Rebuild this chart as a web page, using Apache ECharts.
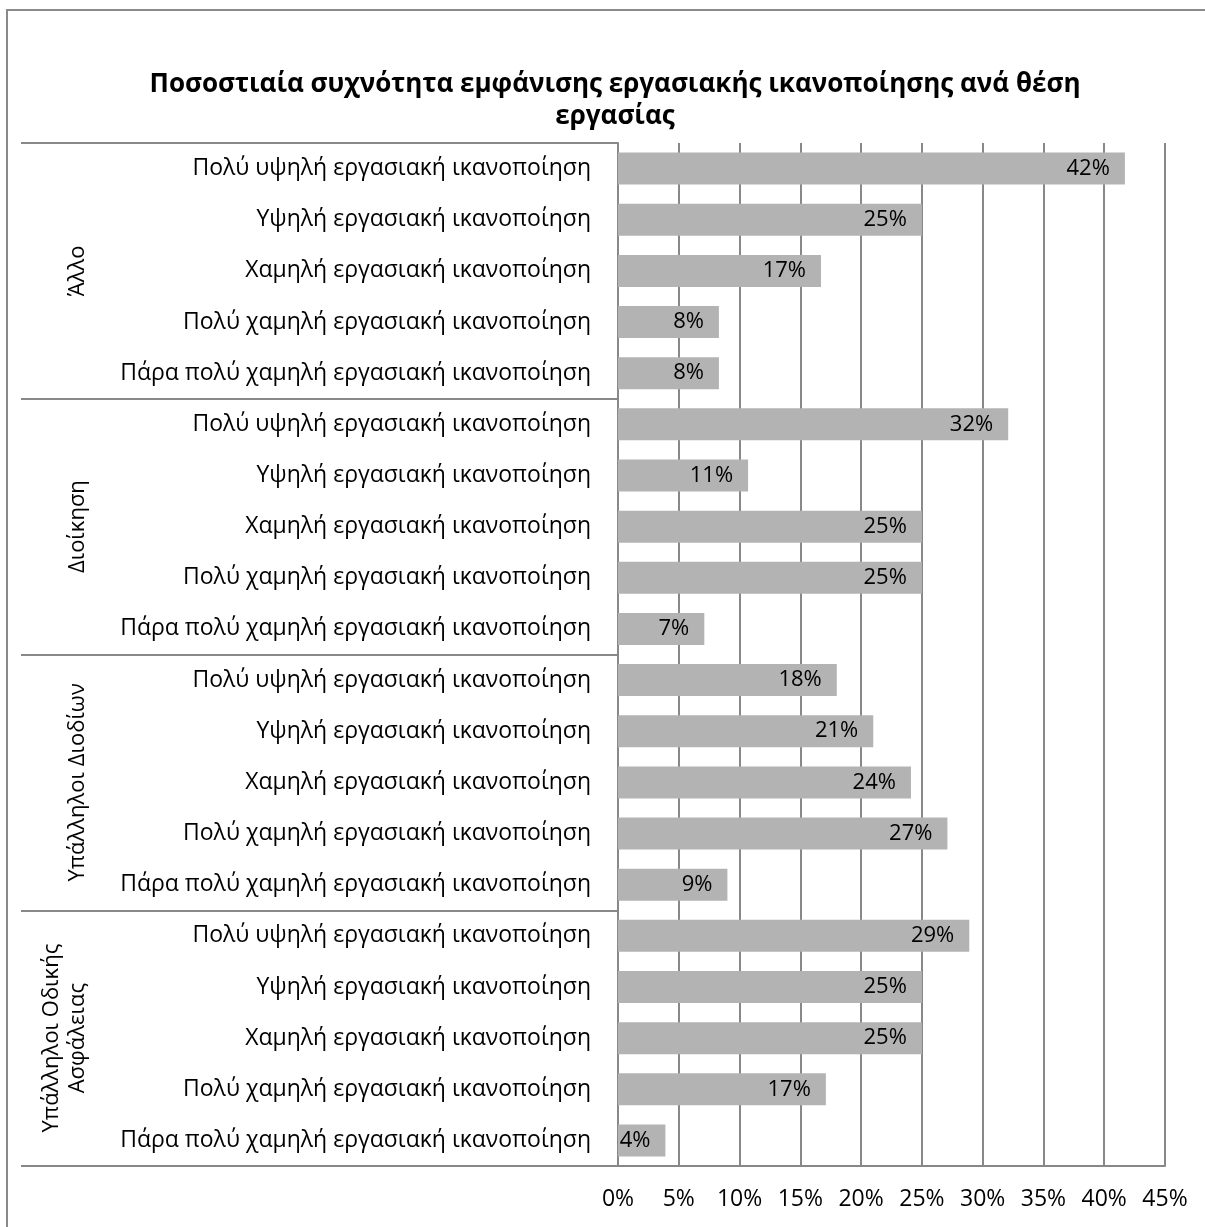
<!DOCTYPE html>
<html>
<head>
<meta charset="utf-8">
<script src="https://cdn.jsdelivr.net/npm/echarts@6/dist/echarts.min.js"></script>
<style>
  html, body { margin: 0; padding: 0; background: #fff; }
  #chart { width: 1205px; height: 1227px; }
</style>
</head>
<body>
<div id="chart"></div>
<script>
// job groups (outer level) and satisfaction levels (inner level)
const groups = ["Άλλο", "Διοίκηση", "Υπάλληλοι Διοδίων", "Υπάλληλοι Οδικής\nΑσφάλειας"];
const levels = [
  "Πολύ υψηλή εργασιακή ικανοποίηση",
  "Υψηλή εργασιακή ικανοποίηση",
  "Χαμηλή εργασιακή ικανοποίηση",
  "Πολύ χαμηλή εργασιακή ικανοποίηση",
  "Πάρα πολύ χαμηλή εργασιακή ικανοποίηση"
];
// percentages per group, same order as levels
const allo = [41.7, 25.0, 16.7, 8.3, 8.3];
const dioikisi = [32.1, 10.7, 25.0, 25.0, 7.1];
const diodia = [18.0, 21.0, 24.1, 27.1, 9.0];
const odiki = [28.9, 25.0, 25.0, 17.1, 3.9];
const xTicks = [0, 5, 10, 15, 20, 25, 30, 35, 40, 45];

const categories = [];
const values = [];
[allo, dioikisi, diodia, odiki].forEach((arr) => {
  arr.forEach((v, i) => {
    categories.push(levels[i]);
    values.push(v);
  });
});

const font = "'Open Sans', 'Noto Sans', sans-serif";
const gray = "#888888";

const chart = echarts.init(document.getElementById("chart"));
const option = {
  backgroundColor: "#fff",
  animation: false,
  textStyle: { fontFamily: font, color: "#000" },
  title: {
    text: "Ποσοστιαία συχνότητα εμφάνισης εργασιακής ικανοποίησης ανά θέση\nεργασίας",
    left: 610,
    top: 64,
    textAlign: "center",
    textStyle: { fontSize: 26, fontWeight: "bold", lineHeight: 32, color: "#000", fontFamily: font }
  },
  graphic: [
    {
      type: "rect",
      shape: { x: 7, y: 10, width: 1210, height: 1230 },
      style: { fill: "none", stroke: "#8a8a8a", lineWidth: 2 },
      silent: true
    }
  ],
  grid: { left: 618, right: 40, top: 143, bottom: 61 },
  xAxis: {
    type: "value",
    min: xTicks[0],
    max: xTicks[xTicks.length - 1],
    interval: 5,
    axisLine: { show: true, lineStyle: { color: gray, width: 2 } },
    axisTick: { show: false },
    splitLine: { show: true, lineStyle: { color: gray, width: 2 } },
    axisLabel: { formatter: "{value}%", fontSize: 23, color: "#000", margin: 22 }
  },
  yAxis: [
    {
      type: "category",
      data: categories,
      inverse: true,
      axisLine: { show: true, lineStyle: { color: gray, width: 2 } },
      axisTick: { show: false },
      axisLabel: { fontSize: 23, color: "#000", margin: 27, interval: 0 }
    },
    {
      type: "category",
      data: groups,
      inverse: true,
      position: "left",
      offset: 597,
      axisLine: { show: false },
      axisTick: { show: true, inside: true, length: 597, lineStyle: { color: gray, width: 2 } },
      axisLabel: {
        inside: true,
        rotate: 90,
        margin: 57,
        align: "center",
        verticalAlign: "middle",
        fontSize: 22,
        lineHeight: 26,
        color: "#000",
        interval: 0,
        // a blank trailing line pushes the two-line label to the left
        formatter: (v) => (v.indexOf("\n") >= 0 ? v + "\n " : v)
      }
    }
  ],
  series: [
    {
      type: "bar",
      data: values,
      yAxisIndex: 0,
      barWidth: 32,
      itemStyle: { color: "#b3b3b3" },
      label: {
        show: true,
        position: "insideRight",
        distance: 15,
        fontSize: 22,
        color: "#000",
        formatter: (p) => Math.round(p.value) + "%"
      }
    }
  ]
};
chart.setOption(option);
</script>
</body>
</html>
